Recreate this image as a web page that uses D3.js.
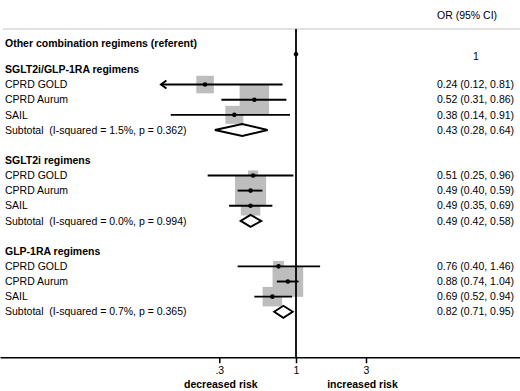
<!DOCTYPE html>
<html>
<head>
<meta charset="utf-8">
<script src="https://cdn.jsdelivr.net/npm/d3@7"></script>
<style>
  html, body { margin: 0; padding: 0; background: #fff; }
  svg { display: block; }
  text { font-family: "Liberation Sans", Arial, Helvetica, sans-serif; font-size: 10.5px; fill: #000; white-space: pre; }
  .bold { font-weight: bold; }
</style>
</head>
<body>
<svg id="chart" width="520" height="391"></svg>
<script>
// ---- data ----
const referentLabel = "Other combination regimens (referent)";
const groups = ["SGLT2i/GLP-1RA regimens", "SGLT2i regimens", "GLP-1RA regimens"];
const studies = ["CPRD GOLD", "CPRD Aurum", "SAIL"];
const studyOR = [[0.24, 0.52, 0.38], [0.51, 0.49, 0.49], [0.76, 0.88, 0.69]];
const studyLo = [[0.12, 0.31, 0.14], [0.25, 0.40, 0.35], [0.40, 0.74, 0.52]];
const studyHi = [[0.81, 0.86, 0.91], [0.96, 0.59, 0.69], [1.46, 1.04, 0.94]];
const studyWeight = [[21, 59, 22], [7, 66, 26], [8, 64, 26]];
const subOR = [0.43, 0.49, 0.82];
const subLo = [0.28, 0.42, 0.71];
const subHi = [0.64, 0.58, 0.95];
const hetI2 = ["1.5%", "0.0%", "0.7%"];
const hetP = ["0.362", "0.994", "0.365"];
const tickValues = [0.3, 1, 3];
const tickLabels = [".3", "1", "3"];
const axisTitles = ["decreased risk", "increased risk"];
const colHeader = "OR (95% CI)";
const xLimits = [0.125, 8];

// ---- layout ----
const W = 520, H = 391;
const svg = d3.select("#chart");
const fmt = d3.format(".2f");

const base = d3.scaleLog().domain([0.3, 3]).range([219.3, 366]);
const x = base.copy().domain([base.invert(0), base.invert(W)]).range([0, W]);
const y = d3.scaleLinear().domain([0, 18]).range([39.1, 311.8]);
const boxSide = d3.scaleSqrt().domain([0, 100]).range([0, 38.3]);

const topY = 29, axisY = 357.3;
const textX = 5, valX = 437;

// top rule
svg.append("line").attr("x1", 3).attr("x2", W).attr("y1", topY).attr("y2", topY)
  .attr("stroke", "#c4c4c4").attr("stroke-width", 1);

// header
svg.append("text").attr("x", valX).attr("y", 15).attr("dy", "0.35em").text(colHeader);

// referent
svg.append("text").attr("class", "bold").attr("x", textX).attr("y", y(0) + 4).attr("dy", "0.35em").text(referentLabel);
svg.append("text").attr("x", 476).attr("y", y(1) + 2.5).attr("dy", "0.35em").attr("text-anchor", "middle").text("1");

// build rows
const rows = [];
groups.forEach((g, gi) => {
  const h = 2 + gi * 6;
  rows.push({type: "header", label: g, r: h});
  studies.forEach((s, si) => {
    rows.push({type: "study", label: s, r: h + 1 + si, or: studyOR[gi][si], lo: studyLo[gi][si], hi: studyHi[gi][si], w: studyWeight[gi][si]});
  });
  rows.push({type: "sub", label: "Subtotal  (I-squared = " + hetI2[gi] + ", p = " + hetP[gi] + ")", r: h + 4, or: subOR[gi], lo: subLo[gi], hi: subHi[gi]});
});

// labels
rows.forEach(d => {
  svg.append("text").attr("class", d.type === "header" ? "bold" : null)
    .attr("x", textX).attr("y", y(d.r)).attr("dy", "0.35em").text(d.label);
  if (d.type !== "header") {
    svg.append("text").attr("x", valX).attr("y", y(d.r)).attr("dy", "0.35em")
      .text(fmt(d.or) + " (" + fmt(d.lo) + ", " + fmt(d.hi) + ")");
  }
});

const studyRows = rows.filter(d => d.type === "study");
const subRows = rows.filter(d => d.type === "sub");

// boxes
svg.append("g").selectAll("rect").data(studyRows).join("rect")
  .attr("x", d => x(d.or) - boxSide(d.w) / 2)
  .attr("y", d => y(d.r) - boxSide(d.w) / 2)
  .attr("width", d => boxSide(d.w))
  .attr("height", d => boxSide(d.w))
  .attr("fill", "#bdbdbd");

// reference line at 1
svg.append("line").attr("x1", x(1)).attr("x2", x(1)).attr("y1", topY).attr("y2", axisY)
  .attr("stroke", "#000").attr("stroke-width", 1.8);

// CI lines
const ciG = svg.append("g").attr("stroke", "#000").attr("stroke-width", 1.9).attr("fill", "none");
studyRows.forEach(d => {
  const yy = y(d.r);
  const x0 = x(d.lo), x1 = x(d.hi);
  ciG.append("line").attr("x1", x0).attr("x2", x1).attr("y1", yy).attr("y2", yy);
  if (d.lo < xLimits[0]) {
    ciG.append("path").attr("d", `M${x0 + 5.5},${yy - 4}L${x0},${yy}L${x0 + 5.5},${yy + 4}`)
      .attr("stroke-linejoin", "miter");
  }
});

// dots
svg.append("g").selectAll("circle").data(studyRows).join("circle")
  .attr("cx", d => x(d.or)).attr("cy", d => y(d.r)).attr("r", 2.3).attr("fill", "#000");
svg.append("circle").attr("cx", x(1)).attr("cy", y(1)).attr("r", 2.2).attr("fill", "#000");

// diamonds
svg.append("g").selectAll("path").data(subRows).join("path")
  .attr("d", d => {
    const yy = y(d.r), hh = 6;
    return `M${x(d.lo)},${yy}L${x(d.or)},${yy - hh}L${x(d.hi)},${yy}L${x(d.or)},${yy + hh}Z`;
  })
  .attr("fill", "#fff").attr("stroke", "#000").attr("stroke-width", 1.9).attr("stroke-linejoin", "miter");

// axis
const axis = d3.axisBottom(x).tickValues(tickValues)
  .tickFormat((d, i) => tickLabels[i]).tickSize(6).tickSizeOuter(0).tickPadding(3);
const ax = svg.append("g").attr("transform", `translate(0,${axisY})`).call(axis);
ax.select(".domain").attr("stroke-width", 1.5);
ax.selectAll(".tick line").attr("stroke-width", 1.5);
ax.selectAll(".tick text").attr("font-family", "Liberation Sans, Arial, sans-serif").attr("font-size", "10.5px").attr("fill", "#000");

svg.append("text").attr("class", "bold").attr("x", x(0.3) + 1.5).attr("y", 384.3).attr("dy", "0.35em")
  .attr("text-anchor", "middle").text(axisTitles[0]);
svg.append("text").attr("class", "bold").attr("x", x(3) - 3.5).attr("y", 384.3).attr("dy", "0.35em")
  .attr("text-anchor", "middle").text(axisTitles[1]);
</script>
</body>
</html>
